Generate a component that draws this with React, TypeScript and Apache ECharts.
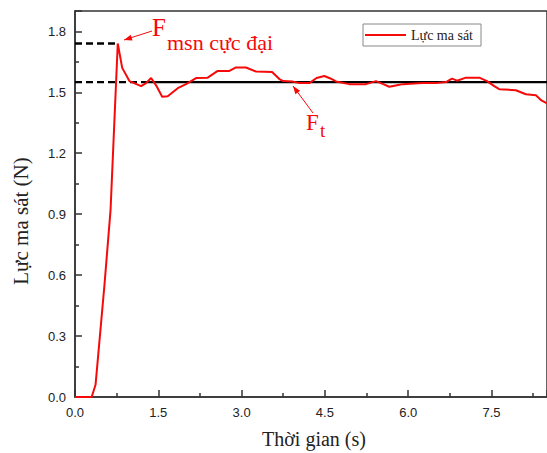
import React, { useEffect, useRef } from "react";
import * as echarts from "echarts";

const timeValues = [0, 0.3, 0.37, 0.53, 0.64, 0.77, 0.85, 0.98, 1.19, 1.28, 1.37, 1.47, 1.57, 1.67, 1.85, 2.0, 2.18, 2.39, 2.57, 2.78, 2.9, 3.08, 3.26, 3.55, 3.68, 3.75, 3.91, 4.05, 4.22, 4.35, 4.49, 4.6, 4.7, 4.94, 5.24, 5.42, 5.55, 5.66, 5.8, 5.9, 6.25, 6.5, 6.68, 6.79, 6.88, 7.04, 7.28, 7.42, 7.55, 7.64, 7.94, 8.12, 8.3, 8.4, 8.5];
const forceValues = [0, 0, 0.06, 0.55, 0.92, 1.74, 1.62, 1.555, 1.53, 1.545, 1.57, 1.53, 1.478, 1.48, 1.52, 1.54, 1.57, 1.572, 1.605, 1.605, 1.622, 1.622, 1.602, 1.6, 1.565, 1.555, 1.553, 1.545, 1.545, 1.57, 1.58, 1.568, 1.553, 1.54, 1.54, 1.555, 1.54, 1.527, 1.535, 1.54, 1.545, 1.545, 1.55, 1.567, 1.557, 1.572, 1.572, 1.555, 1.53, 1.515, 1.51, 1.49, 1.485, 1.46, 1.445];

const kineticForce = 1.55;
const peakForce = 1.74;
const peakTime = 0.77;
const kineticLineStart = 1.28;
const xMax = 8.5;
const yMax = 1.9;
const xTickStep = 1.5;
const yTickStep = 0.3;

const seriesName = "Lực ma sát";
const xAxisTitle = "Thời gian (s)";
const yAxisTitle = "Lực ma sát (N)";

const RED = "#f50a0a";

function arrowHead(x1: number, y1: number, x2: number, y2: number, len = 8, half = 3) {
  const dx = x2 - x1, dy = y2 - y1;
  const d = Math.hypot(dx, dy);
  const ux = dx / d, uy = dy / d;
  const bx = x2 - ux * len, by = y2 - uy * len;
  return [
    [x2, y2],
    [bx - uy * half, by + ux * half],
    [bx + uy * half, by - ux * half],
  ];
}

export default function App() {
  const ref = useRef<HTMLDivElement>(null);
  useEffect(() => {
    document.body.style.margin = "0";
    const chart = echarts.init(ref.current!, null, { renderer: "svg" });
    const redData = timeValues.map((t, i) => [t, forceValues[i]]);
    const a1 = { x1: 152, y1: 31, x2: 124, y2: 40 };
    const a2 = { x1: 313, y1: 113, x2: 293, y2: 86 };
    chart.setOption({
      animation: false,
      backgroundColor: "#fff",
      grid: { left: 75, top: 11, width: 473, height: 386, show: true, borderColor: "#333", borderWidth: 1.5 },
      legend: {
        data: [{ name: seriesName, icon: "rect" }],
        left: 363,
        top: 24,
        width: 129,
        itemWidth: 41,
        itemHeight: 2,
        itemGap: 4,
        padding: [4, 8, 4, 2],
        borderColor: "#888",
        borderWidth: 1,
        textStyle: { fontFamily: "Liberation Serif", fontSize: 14, color: "#222" },
      },
      xAxis: {
        type: "value",
        min: 0,
        max: xMax,
        interval: xTickStep,
        axisLine: { show: true, lineStyle: { color: "#333", width: 1.5 } },
        axisTick: { show: true, inside: true, length: 7, lineStyle: { color: "#333", width: 1.5 } },
        minorTick: { show: true, splitNumber: 2, length: 4, lineStyle: { color: "#333", width: 1.5 } },
        splitLine: { show: false },
        axisLabel: {
          showMaxLabel: false,
          margin: 9,
          fontFamily: "Liberation Sans",
          fontSize: 13,
          color: "#222",
          formatter: (v: number) => v.toFixed(1),
        },
      },
      yAxis: {
        type: "value",
        min: 0,
        max: yMax,
        interval: yTickStep,
        axisLine: { show: true, lineStyle: { color: "#333", width: 1.5 } },
        axisTick: { show: true, inside: true, length: 7, lineStyle: { color: "#333", width: 1.5 } },
        minorTick: { show: true, splitNumber: 2, length: 4, lineStyle: { color: "#333", width: 1.5 } },
        splitLine: { show: false },
        axisLabel: {
          showMaxLabel: false,
          margin: 9,
          fontFamily: "Liberation Sans",
          fontSize: 13,
          color: "#222",
          formatter: (v: number) => v.toFixed(1),
        },
      },
      series: [
        {
          name: "kinetic",
          type: "line",
          data: [[kineticLineStart, kineticForce], [xMax, kineticForce]],
          symbol: "none",
          lineStyle: { color: "#000", width: 2.4 },
          z: 2,
        },
        {
          name: "kineticDash",
          type: "line",
          data: [[0, kineticForce], [kineticLineStart, kineticForce]],
          symbol: "none",
          lineStyle: { color: "#000", width: 2.4, type: [7, 4] },
          z: 2,
        },
        {
          name: "peakDash",
          type: "line",
          data: [[0, peakForce], [peakTime, peakForce]],
          symbol: "none",
          lineStyle: { color: "#000", width: 2.4, type: [7, 4] },
          z: 2,
        },
        {
          name: seriesName,
          type: "line",
          data: redData,
          symbol: "none",
          showSymbol: false,
          color: RED,
          lineStyle: { color: RED, width: 2 },
          z: 3,
        },
      ],
      graphic: [
        { type: "text", x: 21, y: 221, rotation: Math.PI / 2, style: { text: yAxisTitle, fontFamily: "Liberation Serif", fontSize: 21, fill: "#222", align: "center", verticalAlign: "middle" } },
        { type: "text", x: 314, y: 439, style: { text: xAxisTitle, fontFamily: "Liberation Serif", fontSize: 20, fill: "#222", align: "center", verticalAlign: "middle" } },
        { type: "text", x: 152, y: 40, style: { text: "F", fontFamily: "Liberation Serif", fontSize: 25, fill: RED, align: "left", verticalAlign: "bottom" } },
        { type: "text", x: 167, y: 53, style: { text: "msn cực đại", fontFamily: "Liberation Serif", fontSize: 22, fill: RED, align: "left", verticalAlign: "bottom" } },
        { type: "text", x: 306, y: 134, style: { text: "F", fontFamily: "Liberation Serif", fontSize: 23, fill: RED, align: "left", verticalAlign: "bottom" } },
        { type: "text", x: 320, y: 140, style: { text: "t", fontFamily: "Liberation Serif", fontSize: 19, fill: RED, align: "left", verticalAlign: "bottom" } },
        { type: "line", shape: a1, style: { stroke: RED, lineWidth: 1 } },
        { type: "polygon", shape: { points: arrowHead(a1.x1, a1.y1, a1.x2, a1.y2) }, style: { fill: RED } },
        { type: "line", shape: a2, style: { stroke: RED, lineWidth: 1 } },
        { type: "polygon", shape: { points: arrowHead(a2.x1, a2.y1, a2.x2, a2.y2) }, style: { fill: RED } },
      ],
    });
    return () => chart.dispose();
  }, []);
  return <div ref={ref} style={{ width: 547, height: 453 }} />;
}
